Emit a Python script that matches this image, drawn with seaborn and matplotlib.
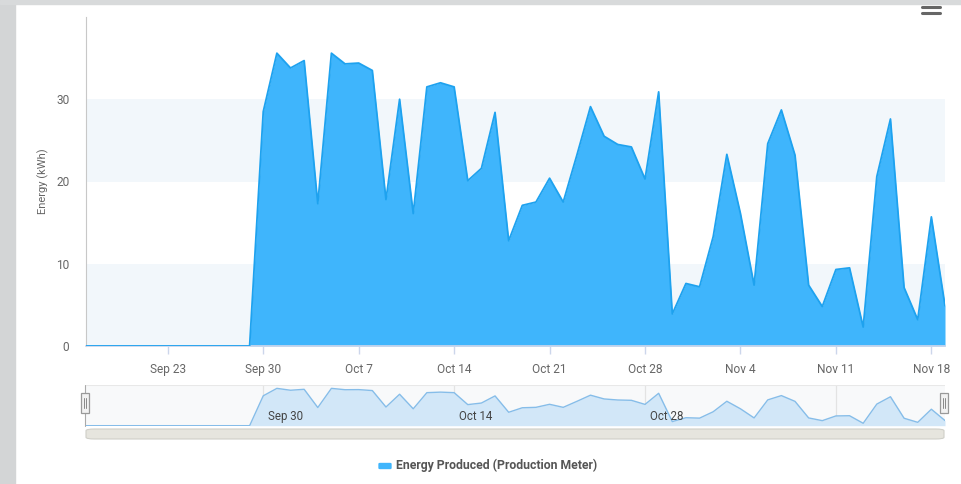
import pandas as pd
import seaborn as sns
import matplotlib.pyplot as plt
import matplotlib.dates as mdates
from matplotlib.patches import Rectangle, FancyBboxPatch

# daily energy, Sep 17 .. Nov 19
start_day = "2019-09-17"
energy = [
    0, 0, 0, 0, 0, 0, 0, 0, 0, 0, 0, 0, 0,
    28.5, 35.6, 33.8, 34.7, 17.3, 35.6, 34.3, 34.4, 33.5, 17.8,
    30.0, 16.1, 31.5, 32.0, 31.5, 20.1, 21.6, 28.4, 12.8, 17.1,
    17.5, 20.4, 17.5, 23.2, 29.1, 25.5, 24.5, 24.2, 20.3, 30.9,
    3.9, 7.6, 7.2, 13.3, 23.3, 16.1, 7.4, 24.6, 28.7, 23.2,
    7.4, 4.8, 9.3, 9.5, 2.3, 20.6, 27.6, 7.1, 3.2, 15.7, 4.9,
]
tick_days = ["2019-09-23", "2019-09-30", "2019-10-07", "2019-10-14",
             "2019-10-21", "2019-10-28", "2019-11-04", "2019-11-11",
             "2019-11-18"]
nav_days = ["2019-09-30", "2019-10-14", "2019-10-28", "2019-11-11"]
nav_labels = ["Sep 30", "Oct 14", "Oct 28"]
y_ticks = [0, 10, 20, 30]
series_name = "Energy Produced (Production Meter)"

FILL = "#3fb5fc"
LINE = "#1ea2ef"
BAND = "#f2f7fb"
TXT = "#666666"


def main():
    df = pd.DataFrame({
        "date": pd.date_range(start_day, periods=len(energy), freq="D"),
        "energy": energy,
    })
    ticks = pd.to_datetime(tick_days)
    x0, x1 = df["date"].iloc[0], df["date"].iloc[-1]

    sns.set_theme(style="white")
    plt.rcParams["font.family"] = ["Roboto", "DejaVu Sans"]

    fig = plt.figure(figsize=(9.61, 4.84), dpi=100)
    fig.patch.set_facecolor("white")

    # screenshot border
    fig.add_artist(Rectangle((0, 0), 15 / 961, 1, transform=fig.transFigure,
                             color="#d3d5d6", zorder=0))
    fig.add_artist(Rectangle((0, 1 - 4 / 484), 1, 4 / 484,
                             transform=fig.transFigure, color="#d8dadb",
                             zorder=0))
    for yy in (6.5, 12.5):
        fig.add_artist(plt.Line2D([922 / 961, 940 / 961],
                                  [1 - yy / 484, 1 - yy / 484],
                                  transform=fig.transFigure, color="#666666",
                                  lw=2.2, solid_capstyle="round"))

    # main chart
    ax = fig.add_axes([86 / 961, 1 - 346 / 484, 859 / 961, 329 / 484])
    ax.axhspan(0, 10, color=BAND, lw=0, zorder=0)
    ax.axhspan(20, 30, color=BAND, lw=0, zorder=0)
    ax.fill_between(df["date"], df["energy"], color=FILL, lw=0, zorder=2)
    sns.lineplot(data=df, x="date", y="energy", color=LINE, lw=1.3, ax=ax,
                 zorder=3)
    ax.set_xlim(x0, x1)
    ax.set_ylim(0, 40)
    ax.set_yticks(y_ticks)
    ax.set_xticks(ticks)
    ax.xaxis.set_major_formatter(mdates.DateFormatter("%b %-d"))
    ax.tick_params(axis="x", direction="out", length=6, width=1,
                   color="#ccd6eb", labelsize=8.6, labelcolor=TXT, pad=6,
                   bottom=True)
    ax.tick_params(axis="y", length=0, labelsize=8.6, labelcolor=TXT,
                   pad=12)
    ax.set_xlabel("")
    ax.set_ylabel("Energy (kWh)", fontsize=8, color=TXT, labelpad=5)
    for s in ("top", "right"):
        ax.spines[s].set_visible(False)
    ax.spines["left"].set_color("#c8c8c8")
    ax.spines["left"].set_linewidth(0.8)
    ax.spines["bottom"].set_color("#ccd6eb")
    ax.set_facecolor("white")

    # navigator
    nav = fig.add_axes([86 / 961, 1 - 426 / 484, 859 / 961, 41 / 484])
    nav.set_facecolor("#f8f9fa")
    for d in pd.to_datetime(nav_days):
        nav.axvline(d, color="#e3e3e3", lw=0.9, zorder=1)
    nav.fill_between(df["date"], df["energy"], color="#d2e7f8", lw=0,
                     zorder=2)
    sns.lineplot(data=df, x="date", y="energy", color="#86bde9", lw=1.0,
                 ax=nav, zorder=3)
    for d, lab in zip(pd.to_datetime(nav_days), nav_labels):
        nav.text(d + pd.Timedelta(hours=8), 2.5, lab, fontsize=8.3,
                 color="#444444", ha="left", va="bottom", zorder=4)
    nav.set_xlim(x0, x1)
    nav.set_ylim(-0.3, 38.8)
    nav.set_xticks([])
    nav.set_yticks([])
    nav.set_xlabel("")
    nav.set_ylabel("")
    for s in nav.spines.values():
        s.set_visible(False)
    nav.axhline(38.8, color="#e8e8e8", lw=0.8)

    # navigator handles
    for hx in (85, 944):
        fig.add_artist(Rectangle(((hx - 4) / 961, 1 - 413 / 484), 8 / 961,
                                 20 / 484, transform=fig.transFigure,
                                 facecolor="#f2f2f2", edgecolor="#999999",
                                 lw=0.9, zorder=5))
        for dx in (-1.3, 1.3):
            fig.add_artist(plt.Line2D([(hx + dx) / 961] * 2,
                                      [1 - 408 / 484, 1 - 398 / 484],
                                      transform=fig.transFigure,
                                      color="#888888", lw=0.7, zorder=6))
    fig.add_artist(plt.Line2D([85 / 961] * 2, [1 - 426 / 484, 1 - 385 / 484],
                              transform=fig.transFigure, color="#aaaaaa",
                              lw=0.8, zorder=4))

    # scrollbar
    fig.add_artist(FancyBboxPatch((86 / 961, 1 - 439 / 484), 858 / 961,
                                  10 / 484,
                                  boxstyle="round,pad=0,rounding_size=0.009",
                                  transform=fig.transFigure,
                                  facecolor="#e6e5de", edgecolor="#cfcfc8",
                                  lw=0.8, mutation_aspect=0.4))

    # legend
    fig.add_artist(FancyBboxPatch((380 / 961, 1 - 468 / 484), 10 / 961,
                                  4 / 484, boxstyle="round,pad=0.001",
                                  transform=fig.transFigure, color=FILL))
    fig.text(396 / 961, 1 - 465.5 / 484, series_name, fontsize=8.8,
             fontweight="bold", color="#555555", ha="left", va="center")

    fig.savefig("out.png", dpi=100, facecolor="white")


if __name__ == "__main__":
    main()
